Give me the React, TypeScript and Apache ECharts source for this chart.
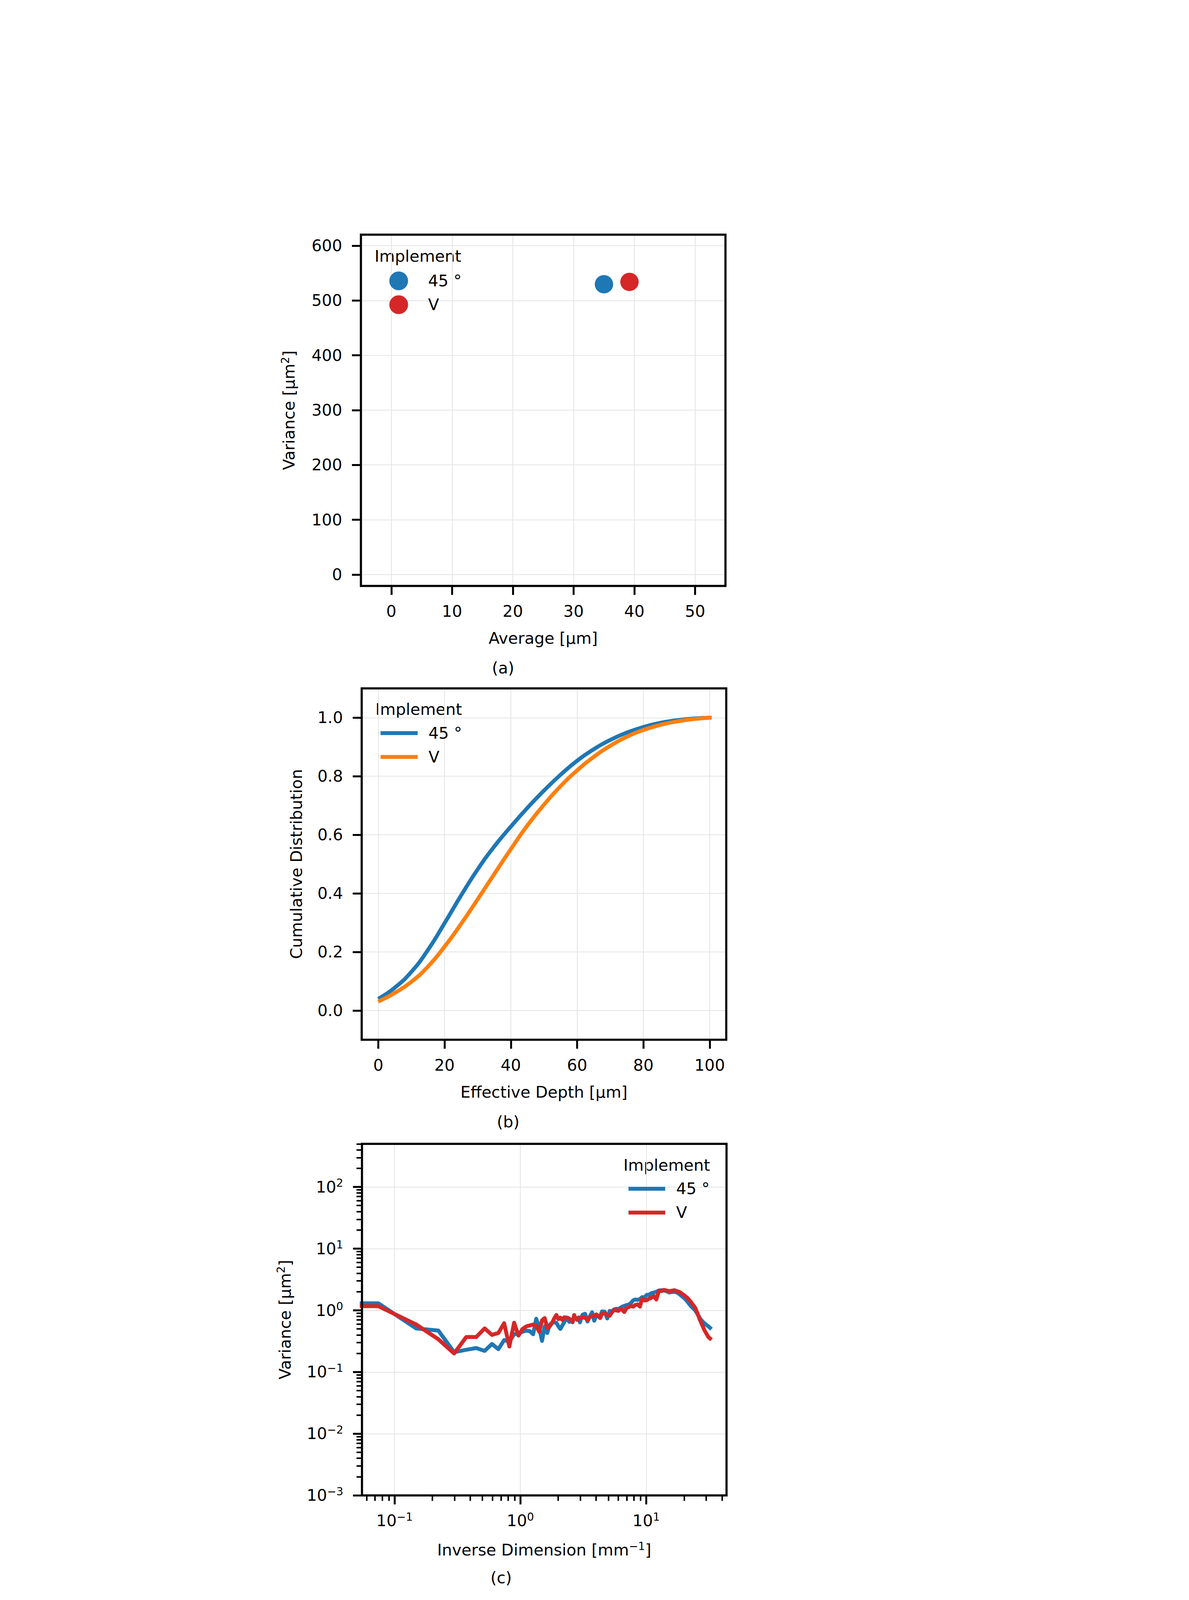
import React, { useEffect, useRef } from 'react';
import * as echarts from 'echarts';

// ---------------- data ----------------
const implementNames = ['45°', 'V'];

// (a) average vs variance
const averageUm = [35.0, 39.2];
const varianceUm2 = [529.7, 534.0];

// (b) cumulative distribution vs effective depth
const depthUm = [0.5, 5, 10, 15, 20, 25, 30, 35, 40, 45, 50, 55, 60, 65, 70, 75, 80, 85, 90, 95, 100];
const cdf45 = [0.043, 0.078, 0.132, 0.207, 0.298, 0.393, 0.482, 0.56, 0.628, 0.692, 0.751, 0.805, 0.853, 0.892, 0.924, 0.949, 0.968, 0.982, 0.991, 0.997, 1.0];
const cdfV = [0.033, 0.06, 0.098, 0.15, 0.218, 0.296, 0.38, 0.466, 0.551, 0.632, 0.703, 0.766, 0.82, 0.866, 0.904, 0.935, 0.958, 0.975, 0.987, 0.995, 1.0];

// (c) variance spectrum vs inverse dimension
const inverseDim = [
  0.04, 0.0743, 0.1486, 0.2229, 0.2972, 0.3715, 0.4458, 0.5201, 0.5944, 0.6687, 0.743,
  0.8173, 0.8916, 0.9659, 1.04, 1.115, 1.189, 1.263, 1.337, 1.412, 1.486,
  1.56, 1.635, 1.709, 1.783, 1.858, 1.932, 2.006, 2.08, 2.155, 2.229,
  2.303, 2.378, 2.452, 2.526, 2.601, 2.675, 2.749, 2.823, 2.898, 2.972,
  3.121, 3.269, 3.418, 3.566, 3.715, 3.864, 4.012, 4.161, 4.309, 4.458,
  4.681, 4.904, 5.127, 5.35, 5.573, 5.795, 6.018, 6.241, 6.464, 6.687,
  6.984, 7.281, 7.579, 7.876, 8.173, 8.545, 8.916, 9.288, 9.659, 10.1,
  10.55, 11.0, 11.52, 12.04, 12.63, 13.23, 13.82, 14.49, 15.23, 15.97,
  16.72, 17.53, 18.43, 19.32, 20.28, 21.32, 22.29, 23.4, 24.52, 25.63,
  26.75, 27.86, 28.98, 30.09, 31.21, 32.17,
];
const spectrum45 = [
  1.3, 1.3, 0.51, 0.47, 0.21, 0.23, 0.245, 0.22, 0.285, 0.235, 0.33,
  0.31, 0.41, 0.42, 0.45, 0.47, 0.46, 0.41, 0.73, 0.52, 0.32,
  0.55, 0.43, 0.58, 0.63, 0.64, 0.63, 0.55, 0.5, 0.57, 0.64,
  0.77, 0.7, 0.65, 0.68, 0.64, 0.8, 0.74, 0.7, 0.77, 0.64,
  0.85, 0.88, 0.66, 0.8, 0.93, 0.68, 0.84, 0.82, 0.8, 0.96,
  0.95, 0.74, 0.98, 0.97, 1.04, 1.06, 1.05, 1.1, 1.15, 1.18,
  1.22, 1.24, 1.32, 1.45, 1.5, 1.48, 1.52, 1.64, 1.62, 1.78,
  1.8, 1.9, 1.95, 2.0, 2.1, 2.12, 2.1, 2.05, 1.95, 1.98,
  2.0, 1.95, 1.82, 1.68, 1.55, 1.38, 1.22, 1.1, 1.0, 0.87,
  0.74, 0.67, 0.62, 0.58, 0.55, 0.52,
];
const spectrumV = [
  1.17, 1.17, 0.59, 0.34, 0.2, 0.37, 0.37, 0.51, 0.4, 0.43, 0.62,
  0.26, 0.63, 0.39, 0.5, 0.55, 0.57, 0.59, 0.56, 0.45, 0.69,
  0.75, 0.52, 0.55, 0.62, 0.74, 0.84, 0.72, 0.76, 0.7, 0.77,
  0.74, 0.76, 0.73, 0.7, 0.65, 0.84, 0.74, 0.72, 0.73, 0.76,
  0.77, 0.76, 0.69, 0.78, 0.8, 0.82, 0.86, 0.8, 0.75, 0.88,
  0.9, 0.84, 0.82, 0.93, 1.02, 1.0, 0.98, 1.05, 1.02, 0.94,
  1.1, 1.13, 1.18, 1.15, 1.22, 1.25, 1.15, 1.55, 1.45, 1.46,
  1.55, 1.6, 1.7, 1.5, 2.1, 2.05, 2.15, 2.1, 2.05, 2.08,
  2.12, 2.05, 1.98, 1.85, 1.72, 1.58, 1.43, 1.25, 1.1, 0.88,
  0.7, 0.58, 0.48, 0.42, 0.37, 0.35,
];

// ticks
const averageTicks = [0, 10, 20, 30, 40, 50];
const varianceTicks = [0, 100, 200, 300, 400, 500, 600];
const depthTicks = [0, 20, 40, 60, 80, 100];
const cdfTicks = [0, 0.2, 0.4, 0.6, 0.8, 1.0];
const invDimMajor = [0.1, 1, 10];
const invDimMinor = [0.06, 0.07, 0.08, 0.09, 0.2, 0.3, 0.4, 0.5, 0.6, 0.7, 0.8, 0.9, 2, 3, 4, 5, 6, 7, 8, 9, 20, 30, 40];
const spectrumMajor = [0.001, 0.01, 0.1, 1, 10, 100];
const spectrumMinorMultipliers = [2, 3, 4, 5, 6, 7, 8, 9];
const spectrumMinorDecades = [0.001, 0.01, 0.1, 1, 10, 100];

// ---------------- styles ----------------
const FONT = 'DejaVu Sans';
const BLUE = '#1f77b4';
const RED = '#d62728';
const ORANGE = '#ff7f0e';
const GRIDLINE = '#e4e4e4';
const LINE_ICON = 'path://M0,0H95V10H0Z';

const baseText = { fontSize: 41, fontFamily: FONT, color: '#000', lineHeight: 48 };
const supText = { fontSize: 28, fontFamily: FONT, color: '#000', lineHeight: 29, verticalAlign: 'top' };
const richSup = { b: { ...baseText }, s: { ...supText } };

const X_MIN_C = 0.0551;
const X_MAX_C = 43.5;
const Y_MIN_C = 0.001;
const Y_MAX_C = 500;

function powLabel(v: number): string {
  const e = Math.log10(v);
  const r = Math.round(e);
  if (Math.abs(e - r) > 1e-6) return '';
  const exp = r < 0 ? '−' + String(-r) : String(r);
  return `{b|10}{s|${exp}}`;
}

function linearAxis(opts: any) {
  const { gridIndex, min, max, ticks, fmt, name, nameGap, isY } = opts;
  return {
    type: 'value',
    gridIndex,
    min,
    max,
    splitNumber: 5,
    position: isY ? 'left' : 'bottom',
    axisLine: { show: false, onZero: false },
    axisTick: { show: true, inside: false, length: 23, lineStyle: { color: '#000', width: 5 }, customValues: ticks },
    axisLabel: { show: true, customValues: ticks, margin: isY ? 48 : 41, formatter: fmt, ...baseText },
    splitLine: { show: true, lineStyle: { color: GRIDLINE, width: 2 } },
    minorTick: { show: false },
    name,
    nameLocation: 'middle',
    nameGap,
    nameTextStyle: { ...baseText, rich: { s: { ...supText } } },
  };
}

function decoAxis(gridIndex: number, isY: boolean, min: number, max: number, values: number[], length: number, width: number) {
  return {
    type: 'value',
    gridIndex,
    min,
    max,
    position: isY ? 'left' : 'bottom',
    axisLine: { show: false, onZero: false },
    axisLabel: { show: false },
    splitLine: { show: false },
    axisTick: { show: true, inside: false, length, lineStyle: { color: '#000', width }, customValues: values },
  };
}

function buildOption() {
  const spectrumMinor: number[] = [];
  spectrumMinorDecades.forEach((d) => {
    spectrumMinorMultipliers.forEach((m) => {
      const v = m * d;
      if (v <= Y_MAX_C + 1e-9) spectrumMinor.push(v);
    });
  });

  const legendText = (pad: number) => ({ ...baseText, padding: [0, 0, 0, pad] });
  const legendFormatter = (n: string) => (n === '45°' ? '45 °' : n);
  const frame = { show: true, borderColor: '#000', borderWidth: 5.5, backgroundColor: 'transparent', z: 10 };

  return {
    animation: false,
    backgroundColor: '#ffffff',
    textStyle: { fontFamily: FONT },
    grid: [
      { left: 924, top: 600.7, width: 933.3, height: 899.3, ...frame },
      { left: 926, top: 1762.3, width: 933.3, height: 899.4, ...frame },
      { left: 926.7, top: 2928.3, width: 933.3, height: 900, ...frame },
    ],
    xAxis: [
      linearAxis({ gridIndex: 0, min: -5, max: 55, ticks: averageTicks, fmt: (v: number) => String(v), name: 'Average [μm]', nameGap: 110 }),
      linearAxis({ gridIndex: 1, min: -5, max: 105, ticks: depthTicks, fmt: (v: number) => String(v), name: 'Effective Depth [μm]', nameGap: 110 }),
      {
        type: 'log',
        logBase: 10,
        gridIndex: 2,
        min: X_MIN_C,
        max: X_MAX_C,
        splitNumber: 3,
        position: 'bottom',
        axisLine: { show: false, onZero: false },
        axisTick: { show: false },
        axisLabel: { formatter: powLabel, margin: 41, ...baseText, rich: richSup },
        splitLine: { show: true, lineStyle: { color: GRIDLINE, width: 2 } },
        name: 'Inverse Dimension [mm{s|−1}]',
        nameLocation: 'middle',
        nameGap: 115.7,
        nameTextStyle: { ...baseText, rich: { s: { ...supText } } },
      },
      decoAxis(2, false, Math.log10(X_MIN_C), Math.log10(X_MAX_C), invDimMajor.map(Math.log10), 23, 5),
      decoAxis(2, false, Math.log10(X_MIN_C), Math.log10(X_MAX_C), invDimMinor.map(Math.log10), 14, 4),
    ],
    yAxis: [
      linearAxis({ gridIndex: 0, min: -20.8, max: 620.2, ticks: varianceTicks, fmt: (v: number) => String(v), name: 'Variance [μm{s|2}]', nameGap: 160, isY: true }),
      linearAxis({ gridIndex: 1, min: -0.1, max: 1.1, ticks: cdfTicks, fmt: (v: number) => v.toFixed(1), name: 'Cumulative Distribution', nameGap: 143, isY: true }),
      {
        type: 'log',
        logBase: 10,
        gridIndex: 2,
        min: Y_MIN_C,
        max: Y_MAX_C,
        splitNumber: 5,
        position: 'left',
        axisLine: { show: false, onZero: false },
        axisTick: { show: false },
        axisLabel: { formatter: powLabel, margin: 48, ...baseText, rich: richSup },
        splitLine: { show: true, lineStyle: { color: GRIDLINE, width: 2 } },
        name: 'Variance [μm{s|2}]',
        nameLocation: 'middle',
        nameGap: 173,
        nameTextStyle: { ...baseText, rich: { s: { ...supText } } },
      },
      decoAxis(2, true, Math.log10(Y_MIN_C), Math.log10(Y_MAX_C), spectrumMajor.map(Math.log10), 23, 5),
      decoAxis(2, true, Math.log10(Y_MIN_C), Math.log10(Y_MAX_C), spectrumMinor.map(Math.log10), 14, 4),
    ],
    legend: [
      {
        data: [
          { name: implementNames[0], itemStyle: { color: BLUE } },
          { name: implementNames[1], itemStyle: { color: RED } },
        ],
        left: 996.7,
        top: 695,
        orient: 'vertical',
        padding: 0,
        itemWidth: 48,
        itemHeight: 48,
        itemGap: 13,
        icon: 'circle',
        selectedMode: false,
        formatter: legendFormatter,
        itemStyle: { borderWidth: 0 },
        textStyle: legendText(46.3),
      },
      {
        data: [
          { name: implementNames[0], itemStyle: { color: BLUE } },
          { name: implementNames[1], itemStyle: { color: ORANGE } },
        ],
        left: 974.3,
        top: 1852.7,
        orient: 'vertical',
        padding: 0,
        itemWidth: 95,
        itemHeight: 48,
        itemGap: 13,
        icon: LINE_ICON,
        selectedMode: false,
        formatter: legendFormatter,
        itemStyle: { borderWidth: 0 },
        textStyle: legendText(22.7),
      },
      {
        data: [
          { name: implementNames[0], itemStyle: { color: BLUE } },
          { name: implementNames[1], itemStyle: { color: RED } },
        ],
        left: 1609,
        top: 3019.3,
        orient: 'vertical',
        padding: 0,
        itemWidth: 94,
        itemHeight: 48,
        itemGap: 13,
        icon: LINE_ICON,
        selectedMode: false,
        formatter: legendFormatter,
        itemStyle: { borderWidth: 0 },
        textStyle: legendText(23),
      },
    ],
    graphic: {
      elements: [
        { type: 'text', x: 959, y: 655.8, silent: true, style: { text: 'Implement', fontSize: 41, fontFamily: FONT, fill: '#000', align: 'left', verticalAlign: 'middle', textAlign: 'left', textVerticalAlign: 'middle' } },
        { type: 'text', x: 961, y: 1815.8, silent: true, style: { text: 'Implement', fontSize: 41, fontFamily: FONT, fill: '#000', align: 'left', verticalAlign: 'middle', textAlign: 'left', textVerticalAlign: 'middle' } },
        { type: 'text', x: 1596, y: 2982.8, silent: true, style: { text: 'Implement', fontSize: 41, fontFamily: FONT, fill: '#000', align: 'left', verticalAlign: 'middle', textAlign: 'left', textVerticalAlign: 'middle' } },
        { type: 'text', x: 1288, y: 1710, silent: true, style: { text: '(a)', fontSize: 41, fontFamily: FONT, fill: '#000', align: 'center', verticalAlign: 'middle', textAlign: 'center', textVerticalAlign: 'middle' } },
        { type: 'text', x: 1301, y: 2871.5, silent: true, style: { text: '(b)', fontSize: 41, fontFamily: FONT, fill: '#000', align: 'center', verticalAlign: 'middle', textAlign: 'center', textVerticalAlign: 'middle' } },
        { type: 'text', x: 1283, y: 4039, silent: true, style: { text: '(c)', fontSize: 41, fontFamily: FONT, fill: '#000', align: 'center', verticalAlign: 'middle', textAlign: 'center', textVerticalAlign: 'middle' } },
      ],
    },
    series: [
      {
        type: 'scatter',
        name: implementNames[0],
        xAxisIndex: 0,
        yAxisIndex: 0,
        symbol: 'circle',
        symbolSize: 47,
        itemStyle: { color: BLUE, opacity: 1 },
        data: [[averageUm[0], varianceUm2[0]]],
      },
      {
        type: 'scatter',
        name: implementNames[1],
        xAxisIndex: 0,
        yAxisIndex: 0,
        symbol: 'circle',
        symbolSize: 47,
        itemStyle: { color: RED, opacity: 1 },
        data: [[averageUm[1], varianceUm2[1]]],
      },
      {
        type: 'line',
        name: implementNames[0],
        xAxisIndex: 1,
        yAxisIndex: 1,
        showSymbol: false,
        symbol: 'none',
        smooth: true,
        lineStyle: { color: BLUE, width: 10, cap: 'square', join: 'round' },
        itemStyle: { color: BLUE },
        data: depthUm.map((x, i) => [x, cdf45[i]]),
      },
      {
        type: 'line',
        name: implementNames[1],
        xAxisIndex: 1,
        yAxisIndex: 1,
        showSymbol: false,
        symbol: 'none',
        smooth: true,
        lineStyle: { color: ORANGE, width: 10, cap: 'square', join: 'round' },
        itemStyle: { color: ORANGE },
        data: depthUm.map((x, i) => [x, cdfV[i]]),
      },
      {
        type: 'line',
        name: implementNames[0],
        xAxisIndex: 2,
        yAxisIndex: 2,
        showSymbol: false,
        symbol: 'none',
        clip: true,
        lineStyle: { color: BLUE, width: 10, cap: 'square', join: 'round' },
        itemStyle: { color: BLUE },
        data: inverseDim.map((x, i) => [x, spectrum45[i]]),
      },
      {
        type: 'line',
        name: implementNames[1],
        xAxisIndex: 2,
        yAxisIndex: 2,
        showSymbol: false,
        symbol: 'none',
        clip: true,
        lineStyle: { color: RED, width: 10, cap: 'square', join: 'round' },
        itemStyle: { color: RED },
        data: inverseDim.map((x, i) => [x, spectrumV[i]]),
      },
    ],
  };
}

export default function App() {
  const ref = useRef<HTMLDivElement>(null);
  useEffect(() => {
    if (!ref.current) return;
    const chart = echarts.init(ref.current, null, { renderer: 'svg' });
    chart.setOption(buildOption() as any);
    return () => {
      chart.dispose();
    };
  }, []);
  return (
    <div
      ref={ref}
      style={{ position: 'absolute', left: 0, top: 0, width: 3044, height: 4755, background: '#ffffff' }}
    />
  );
}
